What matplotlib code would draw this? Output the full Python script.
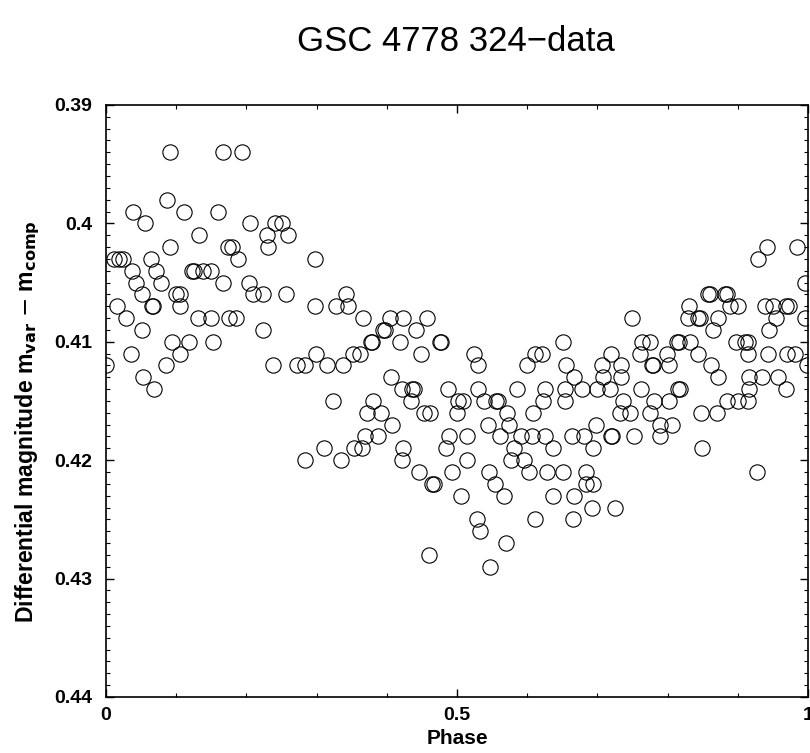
import matplotlib
matplotlib.use("Agg")
import matplotlib.pyplot as plt
from matplotlib.ticker import MultipleLocator, FixedLocator, FixedFormatter

plt.rcParams['font.family'] = ['Liberation Sans', 'DejaVu Sans']

# phases, grouped by magnitude level (0.001 steps)
mag_levels = [0.394, 0.398, 0.399, 0.400, 0.401, 0.402, 0.403, 0.404, 0.405,
              0.406, 0.407, 0.408, 0.409, 0.410, 0.411, 0.412, 0.413, 0.414,
              0.415, 0.416, 0.417, 0.418, 0.419, 0.420, 0.421, 0.422, 0.423,
              0.424, 0.425, 0.426, 0.427, 0.428, 0.429]

phases_by_level = [
    [0.0916, 0.167, 0.194],
    [0.0869],
    [0.0389, 0.1116, 0.160],
    [0.0556, 0.2047, 0.240, 0.250],
    [0.133, 0.229, 0.259],
    [0.0916, 0.174, 0.180, 0.231, 0.941, 0.984],
    [0.0119, 0.0185, 0.0237, 0.0641, 0.1876, 0.2977, 0.9288],
    [0.0366, 0.0712, 0.122, 0.1258, 0.1387, 0.149],
    [0.0423, 0.0779, 0.167, 0.2037, 0.9957],
    [0.0508, 0.0993, 0.1054, 0.209, 0.2232, 0.256, 0.3414, 0.857, 0.860,
     0.882, 0.885],
    [0.0152, 0.065, 0.0674, 0.1054, 0.2977, 0.328, 0.345, 0.831, 0.889,
     0.8998, 0.938, 0.9497, 0.9687, 0.9725],
    [0.0285, 0.1306, 0.1496, 0.1757, 0.1847, 0.3656, 0.4046, 0.4235, 0.4568,
     0.7488, 0.8295, 0.8437, 0.846, 0.8713, 0.954, 0.9957],
    [0.0508, 0.2232, 0.3946, 0.397, 0.4416, 0.865, 0.944],
    [0.0945, 0.1187, 0.1529, 0.377, 0.379, 0.4188, 0.4758, 0.4775, 0.6515,
     0.763, 0.775, 0.813, 0.8167, 0.832, 0.898, 0.9103, 0.915],
    [0.0351, 0.105, 0.299, 0.3514, 0.3618, 0.4483, 0.5247, 0.611, 0.6216,
     0.7194, 0.7607, 0.7987, 0.8429, 0.915, 0.9435, 0.9697, 0.9815],
    [0.0, 0.085, 0.2374, 0.2716, 0.2835, 0.3143, 0.3372, 0.5304, 0.599,
     0.655, 0.706, 0.7336, 0.7773, 0.7797, 0.802, 0.8618, 0.998],
    [0.0522, 0.4055, 0.667, 0.7075, 0.733, 0.8722, 0.916, 0.934, 0.9577],
    [0.0688, 0.4212, 0.4365, 0.439, 0.4876, 0.5295, 0.585, 0.6254, 0.654,
     0.6776, 0.699, 0.7179, 0.762, 0.8152, 0.8177, 0.9164, 0.9682],
    [0.3238, 0.380, 0.4345, 0.5019, 0.5081, 0.5389, 0.555, 0.558, 0.623,
     0.654, 0.736, 0.7806, 0.8025, 0.884, 0.8998, 0.9141],
    [0.3713, 0.3917, 0.4534, 0.4615, 0.4995, 0.5708, 0.6078, 0.7322, 0.7464,
     0.7749, 0.8476, 0.8699],
    [0.407, 0.5437, 0.574, 0.6976, 0.7892, 0.8067],
    [0.369, 0.3879, 0.489, 0.5147, 0.5613, 0.5907, 0.6073, 0.6258, 0.6634,
     0.6809, 0.7194, 0.7212, 0.7521, 0.7892],
    [0.311, 0.3533, 0.3642, 0.4235, 0.4843, 0.5812, 0.6372, 0.6942, 0.8485],
    [0.2835, 0.3352, 0.4212, 0.5147, 0.5769, 0.5954],
    [0.4463, 0.4924, 0.546, 0.6026, 0.6287, 0.6515, 0.6838, 0.927],
    [0.4640, 0.4672, 0.554, 0.6838, 0.6933],
    [0.5052, 0.567, 0.6363, 0.667],
    [0.6928, 0.725],
    [0.528, 0.611, 0.6648],
    [0.5328],
    [0.5694],
    [0.4597],
    [0.547],
]

yticks = [0.39, 0.40, 0.41, 0.42, 0.43, 0.44]
ytick_labels = ['0.39', '0.4', '0.41', '0.42', '0.43', '0.44']
xticks = [0, 0.5, 1]
xtick_labels = ['0', '0.5', '1']

phase = []
dmag = []
for m, ph in zip(mag_levels, phases_by_level):
    for p in ph:
        phase.append(p)
        dmag.append(m)

fig = plt.figure(figsize=(8.1, 7.53), dpi=100)
ax = fig.add_axes([0.1309, 0.0744, 0.8667, 0.7862])

ax.plot(phase, dmag, 'o', mfc='none', mec='black', ms=11, mew=0.8)

ax.set_xlim(0, 1)
ax.set_ylim(0.44, 0.39)

ax.xaxis.set_major_locator(FixedLocator(xticks))
ax.xaxis.set_major_formatter(FixedFormatter(xtick_labels))
ax.xaxis.set_minor_locator(MultipleLocator(0.1))
ax.yaxis.set_major_locator(FixedLocator(yticks))
ax.yaxis.set_major_formatter(FixedFormatter(ytick_labels))
ax.yaxis.set_minor_locator(FixedLocator([0.39 + i * 0.001 for i in range(51)]))

ax.tick_params(which='both', direction='in', top=True, right=True)
ax.tick_params(which='major', length=6, width=1)
ax.tick_params(which='minor', length=3, width=0.8)
ax.tick_params(axis='y', which='major', pad=10, labelsize=14)
ax.tick_params(axis='x', which='major', pad=7, labelsize=14)
for lab in ax.get_xticklabels() + ax.get_yticklabels():
    lab.set_fontweight('bold')
for sp in ax.spines.values():
    sp.set_linewidth(1.2)

ax.set_xlabel('Phase', fontsize=15, fontweight='bold', labelpad=4)
ax.set_ylabel(r'Differential magnitude m$_{\mathbf{var}}$ $-$ m$_{\mathbf{comp}}$',
              fontsize=16.6, fontweight='bold', labelpad=9, y=0.466)

fig.text(0.563, 0.945, 'GSC 4778 324\u2212data', fontsize=25,
         ha='center', va='center')

fig.savefig('out.png', dpi=100)
